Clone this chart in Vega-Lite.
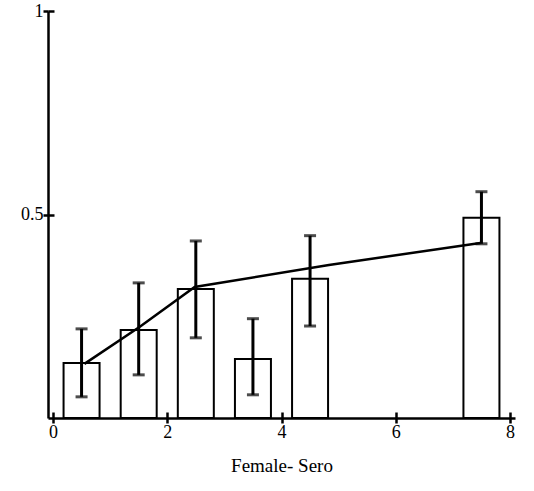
{
  "$schema": "https://vega.github.io/schema/vega-lite/v6.json",
  "width": 467,
  "height": 407,
  "autosize": {"type": "none"},
  "padding": {"left": 48, "top": 11, "right": 19, "bottom": 73},
  "background": "white",
  "config": {
    "view": {"stroke": null},
    "font": "Liberation Serif",
    "style": {"guide-label": {"fontSize": 18, "font": "Liberation Serif", "fill": "black"}},
    "axis": {
      "domainColor": "black",
      "domainWidth": 2.5,
      "tickColor": "black",
      "tickWidth": 2.5,
      "tickSize": 6,
      "grid": false,
      "labelFont": "Liberation Serif",
      "labelFontSize": 18,
      "labelColor": "black",
      "titleFont": "Liberation Serif",
      "titleColor": "black",
      "titleFontWeight": "normal"
    }
  },
  "datasets": {
    "bars": [
      {"x": 0.5, "p": 0.135, "lo": 0.052, "hi": 0.219},
      {"x": 1.5, "p": 0.216, "lo": 0.106, "hi": 0.332},
      {"x": 2.5, "p": 0.317, "lo": 0.197, "hi": 0.435},
      {"x": 3.5, "p": 0.145, "lo": 0.057, "hi": 0.244},
      {"x": 4.5, "p": 0.342, "lo": 0.226, "hi": 0.448},
      {"x": 7.5, "p": 0.492, "lo": 0.428, "hi": 0.556}
    ],
    "fit": [
      {"x": 0.55, "f": 0.133},
      {"x": 1.52, "f": 0.224},
      {"x": 2.48, "f": 0.322},
      {"x": 4.83, "f": 0.376},
      {"x": 7.48, "f": 0.43}
    ]
  },
  "resolve": {"axis": {"x": "independent", "y": "independent"}},
  "layer": [
    {
      "data": {"name": "bars"},
      "mark": {"type": "bar", "size": 36, "fill": "white", "stroke": "black", "strokeWidth": 2},
      "encoding": {
        "x": {
          "field": "x", "type": "quantitative",
          "scale": {"domain": [0, 8], "nice": false, "zero": false},
          "axis": {"values": [0, 2, 4, 6, 8], "title": "Female- Sero", "titleFontSize": 19, "titlePadding": 15, "labelPadding": 0, "labelDx": 5, "labelFontSize": 18, "tickSize": 5, "format": "d"}
        },
        "y": {
          "field": "p", "type": "quantitative",
          "scale": {"domain": [0, 1], "nice": false},
          "axis": {"values": [0.5, 1], "format": "~g", "title": null, "labelPadding": 0, "labelFontSize": 18, "tickSize": 5}
        }
      }
    },
    {
      "data": {"name": "bars"},
      "mark": {"type": "rule", "strokeWidth": 3, "color": "black"},
      "encoding": {
        "x": {"field": "x", "type": "quantitative",
          "axis": {"orient": "top", "offset": -407, "values": [0, 2, 4, 6, 8], "labels": false, "domain": false, "title": null, "tickSize": 6}},
        "y": {"field": "lo", "type": "quantitative",
          "axis": {"orient": "right", "offset": -467, "values": [0.5, 1], "labels": false, "domain": false, "title": null, "tickSize": 6}},
        "y2": {"field": "hi"}
      }
    },
    {
      "data": {"name": "bars"},
      "mark": {"type": "tick", "orient": "horizontal", "size": 12, "thickness": 3, "color": "black"},
      "encoding": {
        "x": {"field": "x", "type": "quantitative", "axis": null},
        "y": {"field": "lo", "type": "quantitative", "axis": null}
      }
    },
    {
      "data": {"name": "bars"},
      "mark": {"type": "tick", "orient": "horizontal", "size": 12, "thickness": 3, "color": "black"},
      "encoding": {
        "x": {"field": "x", "type": "quantitative", "axis": null},
        "y": {"field": "hi", "type": "quantitative", "axis": null}
      }
    },
    {
      "data": {"name": "fit"},
      "mark": {"type": "line", "color": "black", "strokeWidth": 2.5},
      "encoding": {
        "x": {"field": "x", "type": "quantitative", "axis": null},
        "y": {"field": "f", "type": "quantitative", "axis": null}
      }
    }
  ]
}
